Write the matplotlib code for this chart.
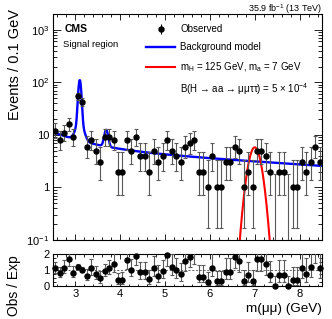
import math
import numpy as np
import matplotlib
matplotlib.use("Agg")
import matplotlib.pyplot as plt
from matplotlib.ticker import FixedLocator, MultipleLocator, LogLocator, NullFormatter, FuncFormatter
from matplotlib.lines import Line2D

plt.rcParams['font.family'] = ['Liberation Sans', 'DejaVu Sans']
plt.rcParams['mathtext.fontset'] = 'custom'
plt.rcParams['mathtext.rm'] = 'Liberation Sans'
plt.rcParams['mathtext.it'] = 'Liberation Sans:italic'
plt.rcParams['mathtext.bf'] = 'Liberation Sans:bold'

# ---------------- data ----------------
mass_range = (2.5, 8.5)
bin_width = 0.1
bin_centers = np.round(np.arange(2.55, 8.5, 0.1), 2)

observed = [12, 8, 11, 16, 9, 54, 42, 6, 8, 5, 3, 9, 9, 8, 2,
            2, 8, 5, 9, 4, 4, 2, 5, 3, 4,
            8, 5, 4, 3, 6, 7, 8, 2, 2, 1,
            4, 1, 1, 3, 3, 6, 5, 1, 2, 1,
            5, 5, 4, 2, 0, 2, 2, 0, 1, 1,
            3, 2, 3, 6, 3]

obs_over_exp = [1.10, 0.81, 1.15, 1.71, 0.83, 1.21, 1.03, 0.65, 1.10, 0.76, 0.47, 0.94, 1.10, 1.37, 0.36,
                0.36, 1.60, 1.03, 1.89, 0.85, 0.85, 0.43, 1.10, 0.65, 0.92,
                1.93, 1.21, 0.99, 0.74, 1.55, 1.84, 2.13, 0.58, 0.58, 0.27,
                1.15, 0.29, 0.29, 0.90, 0.90, 1.84, 1.55, 0.29, 0.67, 0.30,
                1.66, 1.66, 1.35, 0.70, 0.0, 0.70, 0.70, 0.0, 0.36, 0.36,
                1.10, 0.74, 1.19, 2.33, 1.15]

# background model parameters (events / 0.1 GeV)
cont_fast_norm, cont_fast_slope = 5.7, 1.3
cont_slow_norm, cont_slow_slope = 5.6, 0.13
jpsi_mass, jpsi_core_yield, jpsi_core_sigma = 3.097, 70.0, 0.03
jpsi_tail_yield, jpsi_tail_sigma = 19.0, 0.08
psi2s_mass, psi2s_yield, psi2s_sigma = 3.686, 6.5, 0.04

# signal model: m_H = 125 GeV, m_a = 7 GeV
signal_mass, signal_peak, signal_sigma = 7.0, 5.8, 0.117

y_ticks = [0.1, 1, 10, 100, 1000]
x_ticks = [3, 4, 5, 6, 7, 8]
ratio_ticks = [0, 1, 2]


def gauss_density(m, mu, sigma, yld):
    return yld * bin_width / (math.sqrt(2 * math.pi) * sigma) * np.exp(-0.5 * ((m - mu) / sigma) ** 2)


def background(m):
    m = np.asarray(m, dtype=float)
    cont = (cont_fast_norm * np.exp(-cont_fast_slope * (m - mass_range[0]))
            + cont_slow_norm * np.exp(-cont_slow_slope * (m - mass_range[0])))
    return (cont + gauss_density(m, jpsi_mass, jpsi_core_sigma, jpsi_core_yield)
            + gauss_density(m, jpsi_mass, jpsi_tail_sigma, jpsi_tail_yield)
            + gauss_density(m, psi2s_mass, psi2s_sigma, psi2s_yield))


def signal(m):
    return signal_peak * np.exp(-0.5 * ((m - signal_mass) / signal_sigma) ** 2)


def pois_cdf(k, mu):
    if k < 0:
        return 0.0
    s, term = 0.0, math.exp(-mu)
    for i in range(k + 1):
        if i > 0:
            term *= mu / i
        s += term
    return s


def solve_decreasing(f, lo, hi):
    # f decreasing in mu; find root
    for _ in range(80):
        mid = 0.5 * (lo + hi)
        if f(mid) > 0:
            lo = mid
        else:
            hi = mid
    return 0.5 * (lo + hi)


def garwood(n, cl=0.682689):
    a = (1 - cl) / 2
    top = n + 10 * math.sqrt(n + 1) + 10
    up = solve_decreasing(lambda mu: pois_cdf(n, mu) - a, 0.0, top)
    lo = 0.0 if n == 0 else solve_decreasing(lambda mu: pois_cdf(n - 1, mu) - (1 - a), 0.0, top)
    return lo, up


obs = np.array(observed, dtype=float)
limits = np.array([garwood(n) for n in observed])
err_lo = obs - limits[:, 0]
err_hi = limits[:, 1] - obs

# expected per bin (bin average of the model)
expected = np.array([background(np.linspace(c - 0.05, c + 0.05, 101)).mean() for c in bin_centers])
ratio = np.array(obs_over_exp)
r_lo = err_lo / expected
r_hi = err_hi / expected

# ---------------- figure ----------------
fig = plt.figure(figsize=(3.32, 3.19), dpi=100)
L, W = 53 / 332, 269 / 332
ax = fig.add_axes([L, 1 - 240 / 319, W, 226 / 319])
axr = fig.add_axes([L, 1 - 286 / 319, W, 32 / 319])

mfine = np.linspace(mass_range[0], mass_range[1], 3000)
bkg_line, = ax.plot(mfine, background(mfine), color='#0000ff', lw=1.7, zorder=3)
sig_line, = ax.plot(mfine, signal(mfine), color='#ff0000', lw=1.5, zorder=3)

ecol = '0.35'
ax.errorbar(bin_centers, obs, yerr=[err_lo, err_hi],
            fmt='none', ecolor=ecol, elinewidth=0.8, capsize=1.2, capthick=0.8, zorder=4)
mask_pos = obs > 0
ax.plot(bin_centers[mask_pos], obs[mask_pos], 'o', color='black', ms=3.6, zorder=5)

ax.set_yscale('log')
ax.set_xlim(*mass_range)
ax.set_ylim(0.1, 2000)


def ylab(v, pos):
    if abs(v - 1) < 1e-9:
        return '1'
    if abs(v - 10) < 1e-9:
        return '10'
    e = int(round(math.log10(v)))
    return r'$\mathregular{10^{%d}}$' % e


ax.yaxis.set_major_locator(FixedLocator(y_ticks))
ax.yaxis.set_major_formatter(FuncFormatter(ylab))
ax.yaxis.set_minor_locator(LogLocator(base=10, subs=np.arange(2, 10), numticks=20))
ax.yaxis.set_minor_formatter(NullFormatter())
ax.xaxis.set_major_locator(FixedLocator(x_ticks))
ax.xaxis.set_minor_locator(MultipleLocator(0.2))
ax.tick_params(axis='x', labelbottom=False)

for a in (ax, axr):
    a.tick_params(which='both', direction='in', top=True, right=True, width=0.6, labelsize=8, colors='black')
    for s in a.spines.values():
        s.set_linewidth(0.8)
ax.tick_params(axis='y', which='major', length=5.5, pad=2.5)
ax.tick_params(axis='y', which='minor', length=2.8)
ax.tick_params(axis='x', which='major', length=4.5)
ax.tick_params(axis='x', which='minor', length=2.3)

ax.set_ylabel('Events / 0.1 GeV', fontsize=10.5, loc='top')
ax.yaxis.set_label_coords(-0.115, 1.02)

# legend
h_obs = ax.errorbar([], [], yerr=[], fmt='o', color='black', ecolor='black', ms=3.6,
                    elinewidth=0.8, capsize=1.2)
h_blank = Line2D([], [], linestyle='none')
handles = [h_obs, bkg_line, sig_line, h_blank]
labels = ['Observed', 'Background model',
          r'$\mathregular{m_H}$ = 125 GeV, $\mathregular{m_a}$ = 7 GeV',
          r'B(H → aa → μμττ) = 5 × $\mathregular{10^{-4}}$']
ax.legend(handles, labels, loc='upper left', bbox_to_anchor=(0.346, 0.955), frameon=False,
          fontsize=7, handlelength=3.0, handletextpad=0.5, labelspacing=0.82,
          borderpad=0, borderaxespad=0)

ax.text(0.045, 0.934, 'CMS', transform=ax.transAxes, fontsize=7.5, fontweight='bold', va='center', ha='left')
ax.text(0.037, 0.867, 'Signal region', transform=ax.transAxes, fontsize=6.8, va='center', ha='left')
ax.text(1.0, 1.022, r'35.9 fb$^{\mathregular{-1}}$ (13 TeV)', transform=ax.transAxes, fontsize=6.5,
        va='center', ha='right')

# ratio panel
axr.axhline(1.0, color='0.3', lw=0.6, ls=(0, (2.5, 2)))
axr.errorbar(bin_centers, ratio, yerr=[np.minimum(r_lo, ratio), r_hi], fmt='none', ecolor=ecol,
             elinewidth=0.8, capsize=1.2, capthick=0.8, zorder=4)
inrange = ratio <= 2.0
axr.plot(bin_centers[inrange], ratio[inrange], 'o', color='black', ms=3.6, zorder=5, clip_on=False)
axr.set_xlim(*mass_range)
axr.set_ylim(0, 2)
axr.xaxis.set_major_locator(FixedLocator(x_ticks))
axr.xaxis.set_minor_locator(MultipleLocator(0.2))
axr.yaxis.set_major_locator(FixedLocator(ratio_ticks))
axr.yaxis.set_minor_locator(MultipleLocator(0.25))
axr.tick_params(axis='y', which='major', length=4.5, pad=2.5)
axr.tick_params(axis='y', which='minor', length=2.3)
axr.tick_params(axis='x', which='major', length=3.5, pad=2)
axr.tick_params(axis='x', which='minor', length=1.8)
axr.set_ylabel('Obs / Exp', fontsize=10, loc='top')
axr.yaxis.set_label_coords(-0.119, 0.97)
axr.set_xlabel('m(μμ) (GeV)', fontsize=9.7, loc='right', labelpad=3)

fig.savefig('out.png', dpi=100)
